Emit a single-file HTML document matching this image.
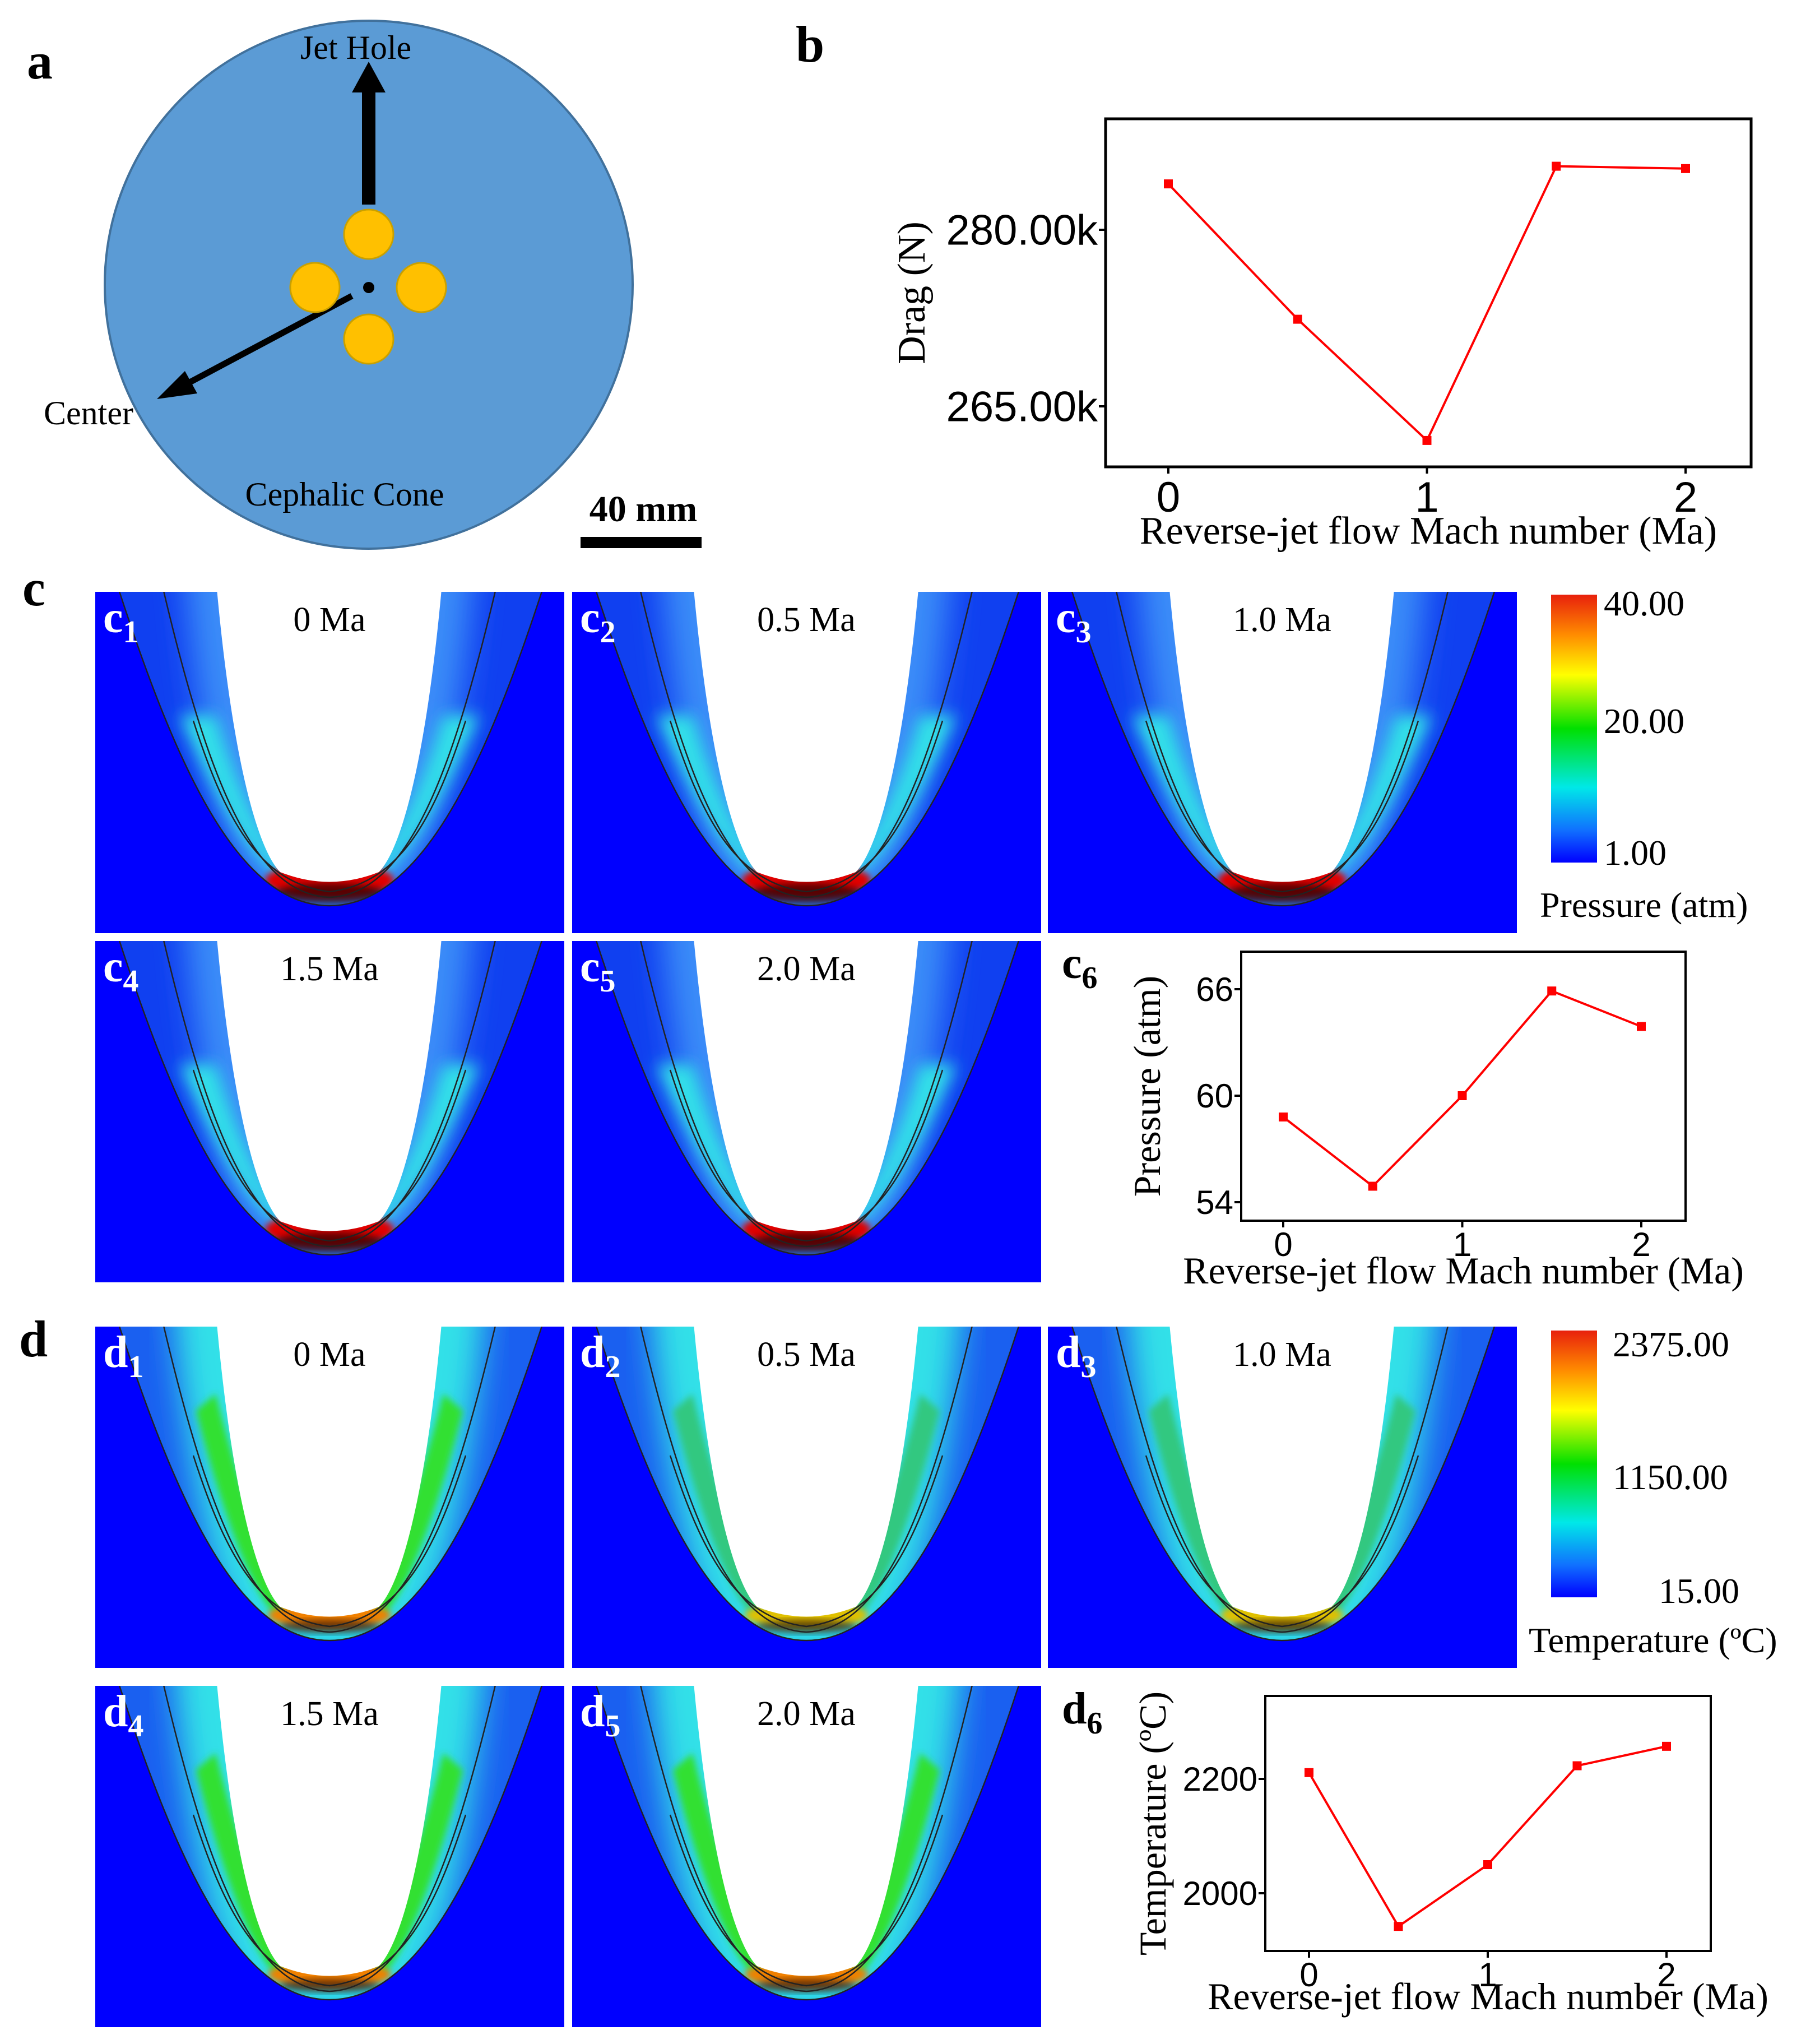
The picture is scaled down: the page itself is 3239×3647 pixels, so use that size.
<!DOCTYPE html>
<html><head><meta charset="utf-8"><style>
html,body{margin:0;padding:0;background:#fff}
body{width:3239px;height:3647px;position:relative;overflow:hidden;font-family:"Liberation Serif",serif}
svg{position:absolute;left:0;top:0}
</style></head><body>
<svg id="fig" width="3239" height="3647" viewBox="0 0 3239 3647" xmlns="http://www.w3.org/2000/svg">
<defs>
<linearGradient id="pcb" x1="0" y1="0" x2="0" y2="1"><stop offset="0" stop-color="#e8200c"/><stop offset="0.15" stop-color="#ff8c00"/><stop offset="0.3" stop-color="#ffff00"/><stop offset="0.5" stop-color="#00e000"/><stop offset="0.72" stop-color="#00e8e8"/><stop offset="0.88" stop-color="#1070ff"/><stop offset="1" stop-color="#0000ff"/></linearGradient>
<filter id="bl" x="-20%" y="-20%" width="140%" height="140%"><feGaussianBlur stdDeviation="14"/></filter>
<filter id="bl2" x="-20%" y="-20%" width="140%" height="140%"><feGaussianBlur stdDeviation="6"/></filter>
<filter id="bl3" x="-30%" y="-30%" width="160%" height="160%"><feGaussianBlur stdDeviation="28"/></filter>
</defs>
<g>
<text x="48" y="140" font-size="92" font-weight="bold">a</text>
<ellipse cx="658" cy="508" rx="471" ry="471" fill="#5b9bd5" stroke="#41719c" stroke-width="4"/>
<line x1="658" y1="365" x2="658" y2="160" stroke="#000" stroke-width="24"/>
<path d="M 628,165 L 658,110 L 688,165 Z" fill="#000"/>
<line x1="628" y1="528" x2="320" y2="692" stroke="#000" stroke-width="11"/>
<path d="M 280,712 L 352,702 L 330,662 Z" fill="#000"/>
<circle cx="658" cy="418" r="44" fill="#ffc000" stroke="#c9a000" stroke-width="3"/>
<circle cx="562" cy="513" r="44" fill="#ffc000" stroke="#c9a000" stroke-width="3"/>
<circle cx="752" cy="513" r="44" fill="#ffc000" stroke="#c9a000" stroke-width="3"/>
<circle cx="658" cy="605" r="44" fill="#ffc000" stroke="#c9a000" stroke-width="3"/>
<circle cx="658" cy="513" r="10" fill="#000"/>
<text x="635" y="105" font-size="60" text-anchor="middle">Jet Hole</text>
<text x="78" y="757" font-size="60">Center</text>
<text x="615" y="902" font-size="60" text-anchor="middle">Cephalic Cone</text>
<text x="1148" y="930" font-size="66" font-weight="bold" text-anchor="middle">40 mm</text>
<rect x="1036" y="958" width="216" height="20" fill="#000"/>
<text x="1420" y="110" font-size="92" font-weight="bold">b</text>
</g>
<g id="chartB"></g>
<g id="cpanels"></g>
<g id="dpanels"></g>
<g>
<text x="40" y="1080" font-size="92" font-weight="bold">c</text>
<rect x="2768" y="1061" width="82" height="478" fill="url(#pcb)"/>
<text x="2862" y="1098" font-size="64">40.00</text>
<text x="2862" y="1308" font-size="64">20.00</text>
<text x="2862" y="1543" font-size="64">1.00</text>
<text x="2748" y="1636" font-size="64">Pressure (atm)</text>
<text x="1895" y="1745" font-size="80" font-weight="bold">c<tspan font-size="56" dy="18">6</tspan></text>
</g>
<g>
<text x="34" y="2420" font-size="92" font-weight="bold">d</text>
<rect x="2768" y="2374" width="82" height="476" fill="url(#pcb)"/>
<text x="2878" y="2420" font-size="64">2375.00</text>
<text x="2878" y="2657" font-size="64">1150.00</text>
<text x="2960" y="2860" font-size="64">15.00</text>
<text x="2728" y="2948" font-size="64">Temperature (ºC)</text>
<text x="1895" y="3075" font-size="80" font-weight="bold">d<tspan font-size="56" dy="18">6</tspan></text>
</g>
<g id="chartC6"></g>
<g id="chartD6"></g>
</svg>
<script>
// ---- data ----
const dragX = [0, 0.5, 1, 1.5, 2];
const dragValues = [283.9, 272.4, 262.1, 285.4, 285.2];
const dragTicks = [265, 280];
const dragTickLabels = ["265.00k", "280.00k"];
const pressX = [0, 0.5, 1, 1.5, 2];
const pressValues = [58.8, 54.9, 60.0, 65.9, 63.9];
const pressTicks = [54, 60, 66];
const tempX = [0, 0.5, 1, 1.5, 2];
const tempValues = [2211, 1942, 2050, 2223, 2257];
const tempTicks = [2000, 2200];
const xTicks = [0, 1, 2];
const pLabels = ["0 Ma","0.5 Ma","1.0 Ma","1.5 Ma","2.0 Ma"];
const NS = "http://www.w3.org/2000/svg";
function mk(parent, tag, attrs, txt){const e=document.createElementNS(NS,tag);for(const k in attrs)e.setAttribute(k,attrs[k]);if(txt!==undefined)e.textContent=txt;parent.appendChild(e);return e;}

function lineChart(g, cfg){
  const {box, xs, ys, yTicks, yLabels, xPix, yPix, fs, tfs, ytitle, yTitleX, xTitleY, sw} = cfg;
  const sx = v => xPix[0] + (v - xTicks[0]) / (xTicks[2]-xTicks[0]) * (xPix[1]-xPix[0]);
  const sy = v => yPix[0] + (v - yTicks[0]) / (yTicks[yTicks.length-1]-yTicks[0]) * (yPix[1]-yPix[0]);
  const r = mk(g,'rect',{x:box[0],y:box[1],width:box[2]-box[0],height:box[3]-box[1],fill:'none',stroke:'#000','stroke-width':sw});
   
  yTicks.forEach((t,i)=>{
    const y=sy(t);
    const l=mk(g,'line',{x1:box[0]-12,x2:box[0],y1:y,y2:y,stroke:'#000','stroke-width':4});
     
    const tx=mk(g,'text',{x:box[0]-14,y:y+fs*0.35,'font-size':fs,'text-anchor':'end','font-family':'Liberation Sans, sans-serif'},yLabels?yLabels[i]:String(t));
     
  });
  xTicks.forEach(t=>{
    const x=sx(t);
    const l=mk(g,'line',{x1:x,x2:x,y1:box[3],y2:box[3]+12,stroke:'#000','stroke-width':4});
     
    const tx=mk(g,'text',{x:x,y:box[3]+fs*1.05,'font-size':fs,'text-anchor':'middle','font-family':'Liberation Sans, sans-serif'},String(t));
     
  });
  const pts=xs.map((v,i)=>sx(v)+','+sy(ys[i])).join(' ');
  const pl=mk(g,'polyline',{points:pts,fill:'none',stroke:'#ff0000','stroke-width':4});
   
  xs.forEach((v,i)=>{
    const m=mk(g,'rect',{x:sx(v)-8,y:sy(ys[i])-8,width:16,height:16,fill:'#ff0000'});
     
  });
  const xt=mk(g,'text',{x:(box[0]+box[2])/2,y:xTitleY,'font-size':tfs,'text-anchor':'middle'},'Reverse-jet flow Mach number (Ma)');
   
  const cy=(box[1]+box[3])/2;
  const yt=mk(g,'text',{x:yTitleX,y:cy,'font-size':tfs,'text-anchor':'middle',transform:`rotate(-90 ${yTitleX} ${cy})`},ytitle);
   
}
lineChart(document.getElementById('chartB'),{box:[1973,212,3125,833],xs:dragX,ys:dragValues,yTicks:dragTicks,yLabels:dragTickLabels,xPix:[2085,3008],yPix:[725,410],fs:76,tfs:70,ytitle:'Drag (N)',yTitleX:1650,xTitleY:970,sw:5});
lineChart(document.getElementById('chartC6'),{box:[2215,1698,3008,2178],xs:pressX,ys:pressValues,yTicks:pressTicks,xPix:[2290,2929],yPix:[2145,1765],fs:60,tfs:68,ytitle:'Pressure (atm)',yTitleX:2070,xTitleY:2290,sw:4});
lineChart(document.getElementById('chartD6'),{box:[2258,3026,3053,3481],xs:tempX,ys:tempValues,yTicks:tempTicks,xPix:[2336,2974],yPix:[3378,3174],fs:60,tfs:68,ytitle:'Temperature (ºC)',yTitleX:2080,xTitleY:3585,sw:4});

// ---- contour panels ----
const cols=[170,1021,1870], W=837, H=609;
function panel(parent, x, y, idx, kind, letter){
  const g=mk(parent,'g',{transform:`translate(${x},${y})`});
   
  const cid=`clip${kind}${idx}`;
  const cp=mk(g,'clipPath',{id:cid}); mk(cp,'rect',{x:0,y:0,width:W,height:H});
  const c=mk(g,'g',{'clip-path':`url(#${cid})`});
  mk(c,'rect',{x:0,y:0,width:W,height:H,fill:'#0000ff'});
  const shock='M 40,-10 C 150,330 260,560 418,560 C 576,560 690,330 800,-10 Z';
  const body='M 217,-5 C 245,300 290,460 330,500 Q 418,535 506,500 C 546,460 590,300 618,-5 Z';
  const sid=`sc${kind}${idx}`;
  const scp=mk(g,'clipPath',{id:sid}); mk(scp,'path',{d:shock});
  const s=mk(c,'g',{'clip-path':`url(#${sid})`});
  if(kind==='pressure'){
    mk(s,'rect',{x:0,y:0,width:W,height:H,fill:'#1040f0'});
    mk(s,'path',{d:body,fill:'#3a8cf8',stroke:'#3a8cf8','stroke-width':110,filter:'url(#bl3)'});
    mk(s,'path',{d:'M 150,220 C 240,420 300,530 418,535 C 536,530 596,420 686,220 L 620,220 C 560,420 500,520 418,520 C 336,520 276,420 216,220 Z',fill:'#30e0e8',filter:'url(#bl)'});
    mk(s,'ellipse',{cx:418,cy:515,rx:115,ry:32,fill:'#e00000',filter:'url(#bl2)'});
    mk(s,'ellipse',{cx:418,cy:538,rx:100,ry:18,fill:'#200000',opacity:0.7,filter:'url(#bl2)'});
  } else {
    mk(s,'rect',{x:0,y:0,width:W,height:H,fill:'#1a60f0'});
    mk(s,'path',{d:body,fill:'#30e0e8',stroke:'#30e0e8','stroke-width':150,filter:'url(#bl3)'});
    const gc = idx===0||idx>=3 ? '#30e030' : '#30c880';
    mk(s,'path',{d:'M 180,150 C 230,350 290,500 330,520 L 360,505 C 310,430 260,300 215,120 Z',fill:gc,filter:'url(#bl2)'});
    mk(s,'path',{d:'M 656,150 C 606,350 546,500 506,520 L 476,505 C 526,430 576,300 621,120 Z',fill:gc,filter:'url(#bl2)'});
    mk(s,'ellipse',{cx:418,cy:515,rx:110,ry:24,fill:idx===1||idx===2?'#e0c000':'#f08000',filter:'url(#bl2)'});
    mk(s,'ellipse',{cx:418,cy:535,rx:90,ry:12,fill:'#200000',opacity:0.6,filter:'url(#bl2)'});
  }
  mk(c,'path',{d:shock.replace(' Z',''),fill:'none',stroke:'#222','stroke-width':2.5});
  mk(c,'path',{d:'M 120,-10 C 200,330 280,540 418,545 C 556,540 636,330 716,-10',fill:'none',stroke:'#222','stroke-width':2.5});
  mk(c,'path',{d:'M 175,230 C 230,400 290,520 418,535 C 546,520 606,400 661,230',fill:'none',stroke:'#222','stroke-width':2.5});
  mk(c,'path',{d:body,fill:'#ffffff'});
  const lab=mk(g,'text',{x:418,y:70,'font-size':62,'text-anchor':'middle'},pLabels[idx]);
   
  const pl=mk(g,'text',{x:14,y:72,'font-size':80,'font-weight':'bold',fill:'#fff'},letter);
  mk(pl,'tspan',{'font-size':56,dy:18},String(idx+1));
   
}
const cg=document.getElementById('cpanels'), dg=document.getElementById('dpanels');
const posC=[[cols[0],1056],[cols[1],1056],[cols[2],1056],[cols[0],1679],[cols[1],1679]];
const posD=[[cols[0],2367],[cols[1],2367],[cols[2],2367],[cols[0],3008],[cols[1],3008]];
posC.forEach((p,i)=>panel(cg,p[0],p[1],i,'pressure','c'));
posD.forEach((p,i)=>panel(dg,p[0],p[1],i,'temperature','d'));
</script>
</body></html>
